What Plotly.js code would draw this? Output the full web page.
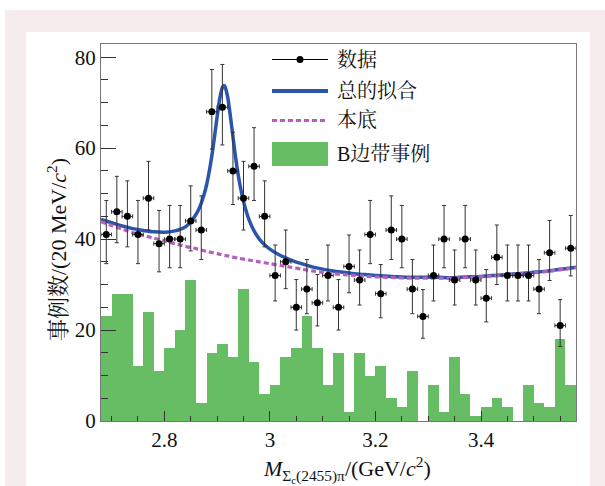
<!DOCTYPE html>
<html>
<head>
<meta charset="utf-8">
<script src="https://cdn.plot.ly/plotly-3.0.1.min.js"></script>
<style>
  html, body { margin:0; padding:0; background:#ffffff; width:605px; height:486px; overflow:hidden; }
  #bg { position:absolute; left:5px; top:10px; width:600px; height:476px; background:#f6ecee; }
  #chart { position:absolute; left:26px; top:32px; width:564px; height:454px; }
</style>
</head>
<body>
<div id="bg"></div>
<div id="chart"></div>
<script>
// ---------------- data ----------------
const binCenters = [2.69,2.71,2.73,2.75,2.77,2.79,2.81,2.83,2.85,2.87,
                    2.89,2.91,2.93,2.95,2.97,2.99,3.01,3.03,3.05,3.07,
                    3.09,3.11,3.13,3.15,3.17,3.19,3.21,3.23,3.25,3.27,
                    3.29,3.31,3.33,3.35,3.37,3.39,3.41,3.43,3.45,3.47,
                    3.49,3.51,3.53,3.55,3.57];
const binHalfWidth = 0.01;

const dataCounts = [41,46,45,41,49,39,40,40,44,42,
                    68,69,55,49,56,45,32,35,25,29,
                    26,32,25,34,31,41,28,42,40,29,
                    23,32,40,31,40,31,27,36,32,32,
                    32,29,37,21,38];
const dataErrUp = [7.5,7.8,7.8,7.5,8.1,7.3,7.4,7.4,7.7,7.5,
                   9.3,9.4,8.5,8.1,8.5,7.8,6.7,7.0,6.1,6.5,
                   6.2,6.7,6.1,6.9,6.6,7.5,6.4,7.5,7.4,6.5,
                   5.9,6.7,7.4,6.6,7.4,6.6,6.3,7.1,6.7,6.7,
                   6.7,6.5,7.1,5.7,7.2];
const dataErrDown = [6.4,6.8,6.7,6.4,7.0,6.2,6.3,6.3,6.6,6.5,
                     8.2,8.3,7.4,7.0,7.5,6.7,5.6,5.9,5.0,5.4,
                     5.1,5.6,5.0,5.8,5.5,6.4,5.3,6.5,6.3,5.4,
                     4.8,5.6,6.3,5.5,6.3,5.5,5.2,6.0,5.6,5.6,
                     5.6,5.4,6.1,4.6,6.1];

const sidebandCounts = [23,28,28,12,24,11,16,20,31,4,
                        15,17,14,29,13,6,8,14,16,23,
                        16,8,15,2,15,10,12,5,3,11,
                        0,8,2,14,6,1,3,5,3,0,
                        8,4,3,18,8];

const fitX = [2.68,2.70,2.72,2.74,2.76,2.78,2.80,2.82,2.83,2.84,
              2.85,2.86,2.865,2.87,2.875,2.88,2.885,2.89,2.895,2.90,
              2.905,2.91,2.913,2.915,2.92,2.925,2.93,2.935,2.94,2.945,
              2.95,2.96,2.97,2.98,2.99,3.00,3.02,3.04,3.06,3.08,
              3.10,3.12,3.14,3.16,3.18,3.20,3.22,3.24,3.26,3.28,
              3.30,3.32,3.34,3.36,3.38,3.40,3.42,3.44,3.46,3.48,
              3.50,3.52,3.54,3.56,3.58];
const fitTotal = [44.3,43.6,42.9,42.3,41.9,41.6,41.5,41.8,42.15,42.7,
                  43.8,45.4,46.5,47.9,49.7,51.9,54.8,58.3,62.4,66.9,
                  70.9,73.4,73.8,73.5,71.2,67.2,62.5,58.0,54.1,50.9,
                  48.3,44.4,41.8,40.0,38.75,37.8,36.4,35.4,34.6,33.9,
                  33.4,33.0,32.7,32.4,32.2,32.0,31.9,31.7,31.6,31.6,
                  31.6,31.6,31.5,31.6,31.7,31.8,32.0,32.1,32.3,32.5,
                  32.7,32.9,33.2,33.5,33.8];

const bkgX = [2.68,2.70,2.72,2.74,2.76,2.78,2.80,2.82,2.84,2.86,
              2.88,2.90,2.92,2.94,2.96,2.98,3.00,3.02,3.04,3.06,
              3.08,3.10,3.12,3.14,3.16,3.18,3.20,3.22,3.24,3.26,
              3.28,3.30,3.32,3.34,3.36,3.38,3.40,3.42,3.44,3.46,
              3.48,3.50,3.52,3.54,3.56,3.58];
const bkgY = [43.8,43.0,42.2,41.4,40.8,40.2,39.6,39.0,38.4,37.9,
              37.3,36.8,36.3,35.8,35.4,35.0,34.6,34.2,33.8,33.4,
              33.0,32.7,32.4,32.2,32.0,31.8,31.7,31.6,31.5,31.4,
              31.4,31.4,31.4,31.4,31.5,31.6,31.7,31.9,32.0,32.2,
              32.4,32.6,32.8,33.1,33.4,33.7];

const xTickVals = [2.8, 3.0, 3.2, 3.4];
const xTickText = ['2.8', '3', '3.2', '3.4'];
const yTickVals = [0, 20, 40, 60, 80];

const legendNames = ['数据', '总的拟合', '本底', 'B边带事例'];

// ---------------- styling ----------------
const SERIF = 'Liberation Serif, Noto Serif CJK SC, Noto Sans CJK SC, serif';
const GREEN = '#66bd63';
const BLUE = '#2b55aa';
const MAGENTA = '#b65fbf';

// page geometry (chart div is at page 26,32)
const DIV_L = 26, DIV_T = 32, W = 564, H = 454;
const M = {l: 75, r: 14, t: 12, b: 65};
const plotL = DIV_L + M.l, plotR = DIV_L + W - M.r;
const plotT = DIV_T + M.t, plotB = DIV_T + H - M.b;
const px = x => (x - plotL) / (plotR - plotL);
const py = y => (plotB - y) / (plotB - plotT);

const traces = [
  {
    type: 'bar', x: binCenters, y: sidebandCounts, width: 2 * binHalfWidth,
    marker: {color: GREEN, line: {width: 0}}, showlegend: false, hoverinfo: 'skip'
  },
  {
    type: 'scatter', mode: 'lines', x: fitX, y: fitTotal,
    line: {color: BLUE, width: 3.5, shape: 'spline', smoothing: 0.6},
    showlegend: false, hoverinfo: 'skip'
  },
  {
    type: 'scatter', mode: 'lines', x: bkgX, y: bkgY,
    line: {color: MAGENTA, width: 3.2, dash: '5px,3px', shape: 'spline', smoothing: 0.6},
    showlegend: false, hoverinfo: 'skip'
  },
  {
    type: 'scatter', mode: 'markers', x: binCenters, y: dataCounts,
    marker: {color: '#000', size: 7},
    error_y: {type: 'data', symmetric: false, array: dataErrUp, arrayminus: dataErrDown,
              color: '#333', thickness: 1, width: 2},
    error_x: {type: 'constant', value: binHalfWidth, color: '#333', thickness: 1, width: 2},
    showlegend: false, hoverinfo: 'skip'
  }
];

// manual legend (ROOT style)
const legX0 = 272, legX1 = 328, legTextX = 335;
const legRows = [59.5, 91, 120.5, 154];
const shapes = [
  {type: 'line', xref: 'paper', yref: 'paper', x0: px(legX0), x1: px(legX1), y0: py(legRows[0]), y1: py(legRows[0]),
   line: {color: '#000', width: 1}},
  {type: 'circle', xref: 'paper', yref: 'paper', x0: px(296.5), x1: px(303.5), y0: py(legRows[0] - 3.5), y1: py(legRows[0] + 3.5),
   fillcolor: '#000', line: {color: '#000', width: 0}},
  {type: 'line', xref: 'paper', yref: 'paper', x0: px(legX0), x1: px(legX1), y0: py(legRows[1]), y1: py(legRows[1]),
   line: {color: BLUE, width: 4}},
  {type: 'line', xref: 'paper', yref: 'paper', x0: px(legX0), x1: px(legX1), y0: py(legRows[2]), y1: py(legRows[2]),
   line: {color: MAGENTA, width: 3, dash: '5px,3px'}},
  {type: 'rect', xref: 'paper', yref: 'paper', x0: px(legX0), x1: px(legX1), y0: py(legRows[3] - 12), y1: py(legRows[3] + 12),
   fillcolor: GREEN, line: {width: 0}}
];

const annotations = legendNames.map((t, i) => ({
  text: t, xref: 'paper', yref: 'paper', x: px(legTextX), y: py(legRows[i]),
  xanchor: 'left', yanchor: 'middle', showarrow: false,
  font: {family: SERIF, size: 20, color: '#111'}
}));
annotations.push({
  text: '事例数/(20 MeV/<i>c</i><sup>2</sup>)', xref: 'paper', yref: 'paper',
  x: px(57), y: py(250), textangle: -90, xanchor: 'center', yanchor: 'middle', showarrow: false,
  font: {family: SERIF, size: 22, color: '#111'}
});
annotations.push({
  text: '<i>M</i><sub>Σ<sub>c</sub>(2455)π</sub>/(GeV/<i>c</i><sup>2</sup>)', xref: 'paper', yref: 'paper',
  x: px(347), y: py(469), xanchor: 'center', yanchor: 'middle', showarrow: false,
  font: {family: SERIF, size: 22, color: '#111'}
});

const axisCommon = {
  showline: true, linecolor: '#777', linewidth: 1, mirror: true,
  showgrid: false, zeroline: false, ticks: 'inside', tickcolor: '#333', tickwidth: 1,
  tickfont: {family: SERIF, size: 21, color: '#111'}
};

const layout = {
  width: W, height: H, margin: M,
  paper_bgcolor: '#ffffff', plot_bgcolor: '#ffffff',
  showlegend: false, bargap: 0,
  xaxis: Object.assign({}, axisCommon, {
    range: [2.68, 3.58], tickvals: xTickVals, ticktext: xTickText, ticklen: 10,
    minor: {dtick: 0.05, tick0: 2.7, ticks: 'inside', ticklen: 5, tickcolor: '#333', showgrid: false}
  }),
  yaxis: Object.assign({}, axisCommon, {
    range: [0, 82.9], tickvals: yTickVals, ticklen: 15,
    minor: {dtick: 5, tick0: 0, ticks: 'inside', ticklen: 7, tickcolor: '#333', showgrid: false}
  }),
  shapes: shapes,
  annotations: annotations
};

Plotly.newPlot('chart', traces, layout, {staticPlot: true, displayModeBar: false});
</script>
</body>
</html>
